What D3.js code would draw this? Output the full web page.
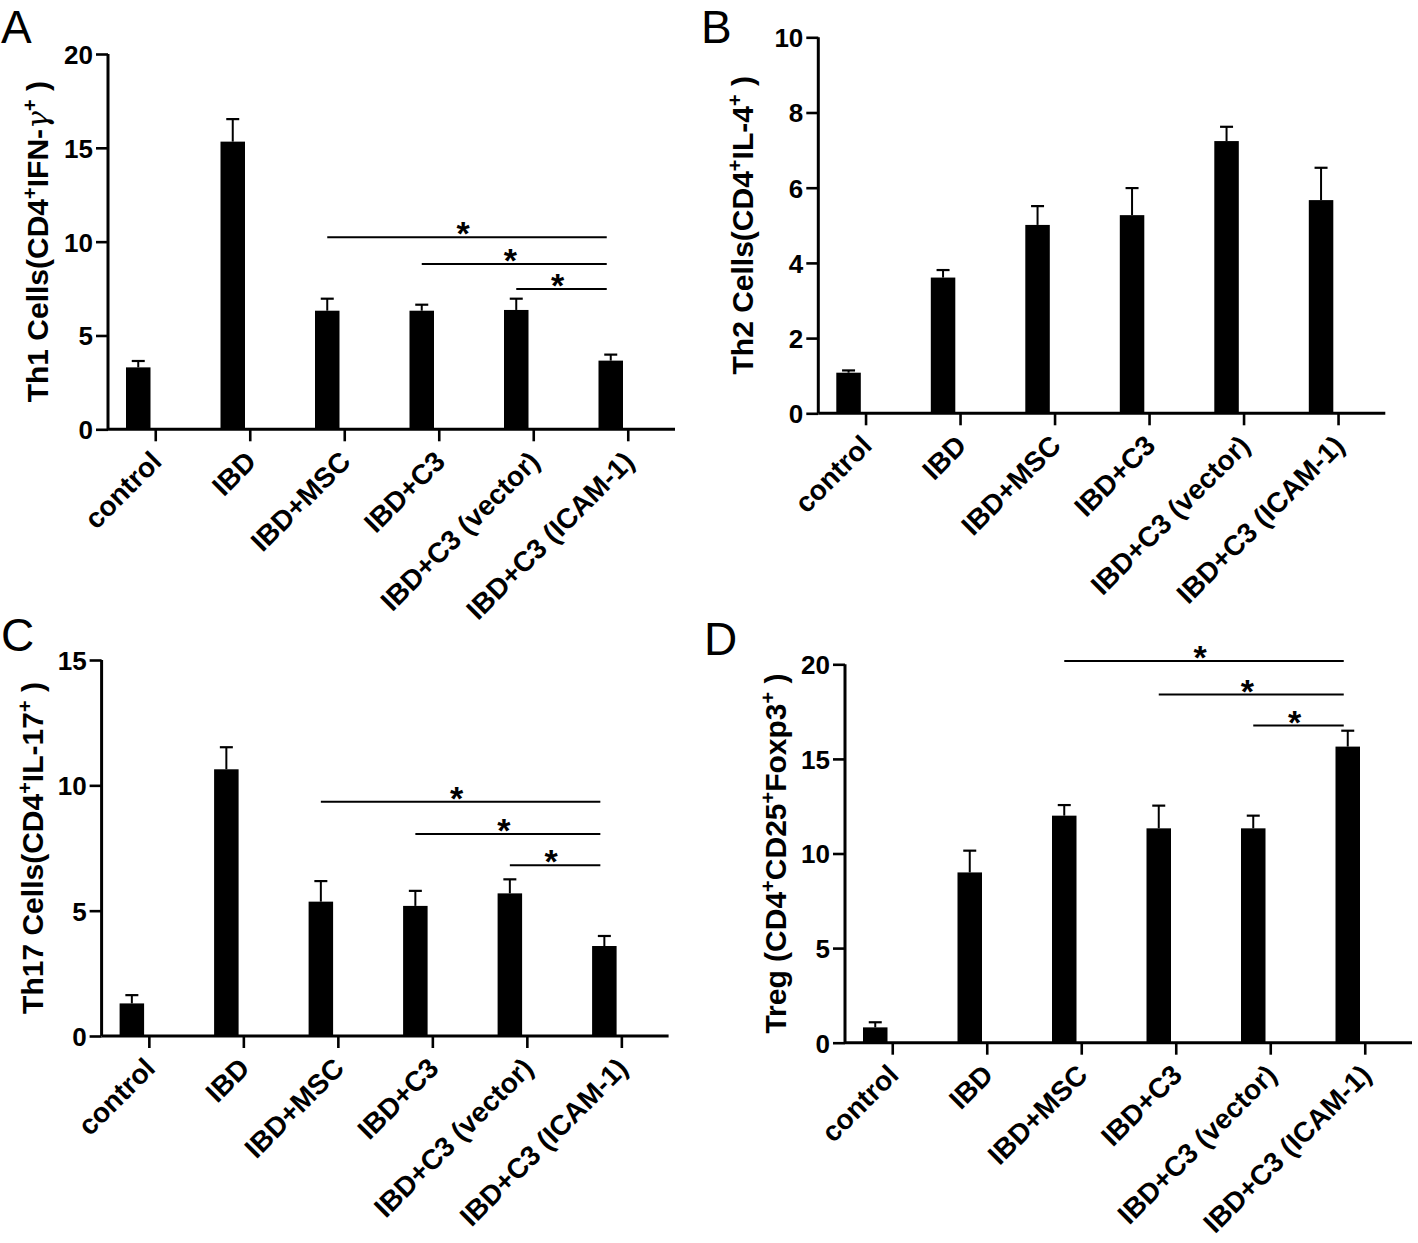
<!DOCTYPE html>
<html>
<head>
<meta charset="utf-8">
<script src="https://cdn.jsdelivr.net/npm/d3@7"></script>
<style>
  html, body { margin: 0; padding: 0; background: #fff; }
  svg { display: block; }
  text { font-family: Arial, "Liberation Sans", sans-serif; fill: #000; }
</style>
</head>
<body>
<svg id="chart" width="1418" height="1243"></svg>
<script>
// ---------- data ----------
const categories = ["control", "IBD", "IBD+MSC", "IBD+C3", "IBD+C3 (vector)", "IBD+C3 (ICAM-1)"];

const th1Mean = [3.30, 15.33, 6.32, 6.32, 6.36, 3.66];
const th1Err  = [0.34, 1.20, 0.64, 0.32, 0.60, 0.32];
const th1Ticks = [0, 5, 10, 15, 20];

const th2Mean = [1.08, 3.61, 5.01, 5.27, 7.24, 5.67];
const th2Err  = [0.06, 0.20, 0.50, 0.72, 0.38, 0.86];
const th2Ticks = [0, 2, 4, 6, 8, 10];

const th17Mean = [1.30, 10.64, 5.36, 5.19, 5.69, 3.59];
const th17Err  = [0.33, 0.88, 0.82, 0.60, 0.56, 0.40];
const th17Ticks = [0, 5, 10, 15];

const tregMean = [0.81, 9.00, 12.00, 11.33, 11.33, 15.65];
const tregErr  = [0.27, 1.15, 0.56, 1.20, 0.67, 0.84];
const tregTicks = [0, 5, 10, 15, 20];

// significance brackets: [from index, to index, y value]
const th1Sig  = [[2, 5, 10.23], [3, 5, 8.81], [4, 5, 7.48]];
const th17Sig = [[2, 5, 9.35], [3, 5, 8.06], [4, 5, 6.81]];
const tregSig = [[2, 5, 20.17], [3, 5, 18.4], [4, 5, 16.76]];

// ---------- drawing ----------
const svg = d3.select("#chart");

function drawPanel(cfg) {
  const g = svg.append("g");
  const W = 567;
  const x = d3.scalePoint().domain(categories).range([cfg.x0, cfg.x0 + W]).padding(0.5);
  const y = d3.scaleLinear().domain([0, cfg.ymax]).range([cfg.y0, cfg.ytop]);
  const barW = 24.5, barShift = -17;

  // bars
  g.selectAll("rect.bar").data(cfg.mean).join("rect")
    .attr("x", (d, i) => x(categories[i]) + barShift - barW / 2)
    .attr("y", d => y(d))
    .attr("width", barW)
    .attr("height", d => cfg.y0 - y(d))
    .attr("fill", "#000");

  // error bars (upper)
  cfg.mean.forEach((m, i) => {
    const cx = x(categories[i]) + barShift;
    g.append("line").attr("x1", cx).attr("x2", cx)
      .attr("y1", y(m)).attr("y2", y(m + cfg.err[i]))
      .attr("stroke", "#000").attr("stroke-width", 2);
    g.append("line").attr("x1", cx - 6.5).attr("x2", cx + 6.5)
      .attr("y1", y(m + cfg.err[i])).attr("y2", y(m + cfg.err[i]))
      .attr("stroke", "#000").attr("stroke-width", 2.2);
  });

  // y axis
  const yAxis = g.append("g").attr("transform", `translate(${cfg.x0},0)`)
    .call(d3.axisLeft(y).tickValues(cfg.ticks).tickSize(12).tickPadding(3).tickFormat(d3.format("d")));
  yAxis.select(".domain").attr("stroke-width", 3).attr("d", `M0,${cfg.ytop}V${cfg.y0}`);
  yAxis.selectAll(".tick line").attr("stroke-width", 2.6);
  yAxis.selectAll(".tick text").attr("font-size", 26).attr("font-weight", "bold")
    .attr("font-family", "Arial, 'Liberation Sans', sans-serif").attr("dy", "0.36em");

  // x axis
  const xAxis = g.append("g").attr("transform", `translate(0,${cfg.y0})`)
    .call(d3.axisBottom(x).tickSize(12).tickFormat(""));
  xAxis.select(".domain").attr("stroke-width", 3).attr("d", `M${cfg.x0},0H${cfg.x0 + W}`);
  xAxis.selectAll(".tick line").attr("stroke-width", 2.6);

  // rotated category labels
  categories.forEach(c => {
    g.append("text")
      .attr("transform", `translate(${x(c) + 8},${cfg.y0 + 34}) rotate(-45)`)
      .attr("text-anchor", "end")
      .attr("font-size", 28).attr("font-weight", "bold")
      .text(c);
  });

  // y title
  const t = g.append("text")
    .attr("transform", `translate(${cfg.titleX},${(cfg.y0 + cfg.ytop) / 2}) rotate(-90)`)
    .attr("text-anchor", "middle")
    .attr("font-size", 30).attr("font-weight", "bold");
  cfg.title.forEach(p => {
    const ts = t.append("tspan").text(p.t);
    if (p.sup) ts.attr("font-size", 20).attr("baseline-shift", "55%");
    if (p.normal) ts.attr("font-weight", "normal").attr("font-family", "'DejaVu Serif', serif").attr("font-style", "italic");
  });

  // panel letter
  svg.append("text").attr("x", cfg.letterX).attr("y", cfg.letterY)
    .attr("font-size", 46).attr("font-weight", "normal").text(cfg.letter);

  // significance
  (cfg.sig || []).forEach(s => {
    const xa = x(categories[s[0]]) + barShift;
    const xb = x(categories[s[1]]) + barShift - 4;
    const yy = y(s[2]);
    g.append("line").attr("x1", xa).attr("x2", xb).attr("y1", yy).attr("y2", yy)
      .attr("stroke", "#000").attr("stroke-width", 2);
    g.append("text").attr("x", (xa + xb) / 2 - 4).attr("y", yy + 8)
      .attr("text-anchor", "middle").attr("font-size", 34).attr("font-weight", "bold").text("*");
  });
}

drawPanel({
  letter: "A", letterX: 1, letterY: 43,
  x0: 108, y0: 429.3, ytop: 54, ymax: 20, ticks: th1Ticks,
  mean: th1Mean, err: th1Err, sig: th1Sig, titleX: 48,
  title: [{t: "Th1 Cells(CD4"}, {t: "+", sup: true}, {t: "IFN-"}, {t: "γ", normal: true}, {t: "+", sup: true}, {t: " )"}]
});
drawPanel({
  letter: "B", letterX: 701, letterY: 43,
  x0: 818.3, y0: 413.3, ytop: 37.3, ymax: 10, ticks: th2Ticks,
  mean: th2Mean, err: th2Err, sig: [], titleX: 753,
  title: [{t: "Th2 Cells(CD4"}, {t: "+", sup: true}, {t: "IL-4"}, {t: "+", sup: true}, {t: " )"}]
});
drawPanel({
  letter: "C", letterX: 1, letterY: 651,
  x0: 101.6, y0: 1036, ytop: 660, ymax: 15, ticks: th17Ticks,
  mean: th17Mean, err: th17Err, sig: th17Sig, titleX: 43,
  title: [{t: "Th17 Cells(CD4"}, {t: "+", sup: true}, {t: "IL-17"}, {t: "+", sup: true}, {t: " )"}]
});
drawPanel({
  letter: "D", letterX: 704, letterY: 655,
  x0: 845, y0: 1042.7, ytop: 664.3, ymax: 20, ticks: tregTicks,
  mean: tregMean, err: tregErr, sig: tregSig, titleX: 786,
  title: [{t: "Treg (CD4"}, {t: "+", sup: true}, {t: "CD25"}, {t: "+", sup: true}, {t: "Foxp3"}, {t: "+", sup: true}, {t: " )"}]
});
</script>
</body>
</html>
